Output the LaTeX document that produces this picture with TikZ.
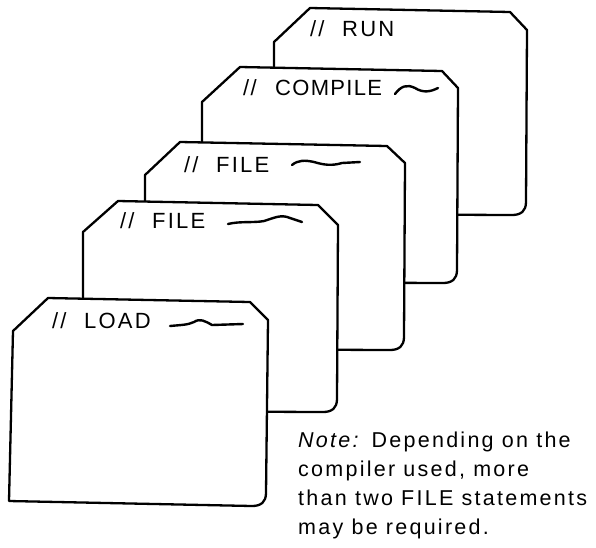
\documentclass[tikz,border=0pt]{standalone}
\usepackage{fontspec}
\setmainfont{Liberation Sans}
\begin{document}
\begin{tikzpicture}[x=1pt,y=-1pt,
  card/.style={draw=black,fill=white,line width=2.3pt,line join=round},
  squiggle/.style={draw=black,line width=2.4pt,line cap=round},
  cardlabel/.style={anchor=base west,inner sep=0pt,
    font=\fontsize{22}{26}\selectfont\addfontfeatures{LetterSpace=10}},
  noteline/.style={anchor=base west,inner sep=0pt,
    font=\fontsize{21.5}{29}\selectfont\addfontfeatures{LetterSpace=10.5}}]
\useasboundingbox (0,0) rectangle (596,547);
% the "//" of a control statement, followed by its operation name
\newcommand{\slashes}{\makebox[32pt][l]{//}}

% Job control cards, drawn from the back of the deck to the front
% RUN
\path[card] (310,8) -- (510,12) -- (527,30) -- (526,202)
  .. controls (526,211) and (521,215) .. (512,215) -- (274,214) -- (274,42) -- cycle;
\node[cardlabel] (run) at (310,36) {\slashes RUN};

% COMPILE
\path[card] (240,67) -- (442,71) -- (458,88) -- (457,270)
  .. controls (457,279) and (452,283) .. (443,283) -- (202,282) -- (202,102) -- cycle;
\node[cardlabel,font=\fontsize{22}{26}\selectfont\addfontfeatures{LetterSpace=6}]
  (compile) at (243,95) {\slashes COMPILE};
\path[squiggle] (395,94) .. controls (401,86) and (407,84) .. (415,88)
  .. controls (423,93) and (430,92) .. (438,88);

% FILE (second)
\path[card] (180,142) -- (387,146) -- (405,163) -- (404,337)
  .. controls (404,346) and (399,350) .. (390,350) -- (145,349) -- (145,175) -- cycle;
\node[cardlabel] (fileB) at (184,172) {\slashes FILE};
\path[squiggle] (292,165) .. controls (298,160) and (305,160) .. (314,162)
  .. controls (324,165) and (332,166) .. (342,163) -- (360,162);

% FILE (first)
\path[card] (118,201) -- (318,205) -- (338,225) -- (337,399)
  .. controls (337,408) and (332,412) .. (323,412) -- (83,411) -- (83,232) -- cycle;
\node[cardlabel] (fileA) at (120,228) {\slashes FILE};
\path[squiggle] (228,224) .. controls (240,221) and (254,223) .. (264,221)
  .. controls (274,218) and (281,214) .. (290,218) -- (302,222);

% LOAD
\path[card] (48,298) -- (250,302) -- (268,320) -- (266,493)
  .. controls (266,502) and (261,506) .. (252,506) -- (9,501) -- (13,331) -- cycle;
\node[cardlabel] (load) at (52,328) {\slashes LOAD};
\path[squiggle] (170,326) .. controls (180,325) and (188,325) .. (194,322)
  .. controls (200,318) and (205,321) .. (212,325) -- (243,324);

% Explanatory note
\node[noteline] (note1) at (298,447) {\textit{Note:}\hspace{0.5em}Depending on the};
\node[noteline] (note2) at (298,476) {compiler used, more};
\node[noteline] (note3) at (298,505) {than two FILE statements};
\node[noteline] (note4) at (298,534) {may be required.};
\end{tikzpicture}
\end{document}
